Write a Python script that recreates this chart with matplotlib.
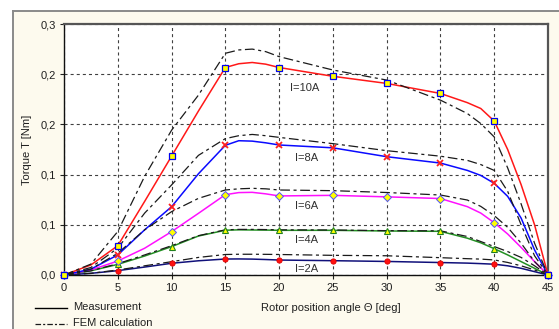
import matplotlib
matplotlib.use("Agg")
import matplotlib.pyplot as plt
from matplotlib.lines import Line2D
from matplotlib.patches import Rectangle
from matplotlib.ticker import FuncFormatter

plt.rcParams['font.family'] = ['Liberation Sans', 'DejaVu Sans']
plt.rcParams['lines.scale_dashes'] = False

# ---- data ----
angles = [0, 2.5, 5, 7.5, 10, 12.5, 15, 16.25, 17.5, 18.75, 20, 25, 30, 35, 37.5, 38.75, 40, 41.25, 42.5, 43.75, 45]

meas_10A = [0, 0.012, 0.035, 0.088, 0.142, 0.196, 0.248, 0.2525, 0.254, 0.252, 0.248, 0.2375, 0.229, 0.217, 0.206, 0.199, 0.184, 0.150, 0.108, 0.060, 0]
fem_10A  = [0, 0.013, 0.052, 0.118, 0.173, 0.215, 0.265, 0.269, 0.270, 0.267, 0.261, 0.245, 0.233, 0.209, 0.193, 0.181, 0.165, 0.128, 0.085, 0.038, 0]

meas_8A = [0, 0.007, 0.024, 0.054, 0.0816, 0.121, 0.155, 0.1605, 0.160, 0.158, 0.1554, 0.152, 0.1414, 0.1338, 0.125, 0.119, 0.1096, 0.094, 0.068, 0.030, 0]
fem_8A  = [0, 0.009, 0.032, 0.074, 0.1076, 0.143, 0.163, 0.1665, 0.168, 0.1665, 0.1645, 0.157, 0.1486, 0.142, 0.137, 0.132, 0.125, 0.100, 0.060, 0.023, 0]

meas_6A = [0, 0.006, 0.0167, 0.032, 0.0518, 0.0737, 0.096, 0.0985, 0.0988, 0.097, 0.0945, 0.0952, 0.0934, 0.0914, 0.0817, 0.074, 0.0625, 0.049, 0.033, 0.016, 0]
fem_6A  = [0, 0.007, 0.026, 0.054, 0.0757, 0.0916, 0.1016, 0.103, 0.1036, 0.103, 0.1016, 0.1008, 0.0986, 0.0956, 0.0896, 0.082, 0.0710, 0.057, 0.038, 0.016, 0]

meas_4A = [0, 0.005, 0.0127, 0.0227, 0.0339, 0.0466, 0.0535, 0.054, 0.0538, 0.0537, 0.0534, 0.0534, 0.0526, 0.0522, 0.044, 0.0385, 0.0315, 0.024, 0.016, 0.008, 0]
fem_4A  = [0, 0.005, 0.0135, 0.024, 0.035, 0.047, 0.054, 0.0545, 0.0545, 0.0543, 0.054, 0.0538, 0.053, 0.0528, 0.046, 0.040, 0.034, 0.028, 0.021, 0.011, 0]

meas_2A = [0, 0.002, 0.0052, 0.0095, 0.014, 0.017, 0.0191, 0.0192, 0.019, 0.0185, 0.0179, 0.0171, 0.0162, 0.0149, 0.0142, 0.0136, 0.0129, 0.011, 0.008, 0.004, 0]
fem_2A  = [0, 0.002, 0.006, 0.011, 0.0159, 0.021, 0.0245, 0.0248, 0.0248, 0.0247, 0.0245, 0.0235, 0.023, 0.0207, 0.0195, 0.019, 0.018, 0.015, 0.011, 0.006, 0]

labels = ["I=10A", "I=8A", "I=6A", "I=4A", "I=2A"]
label_pos = [(21.0, 0.2235), (21.5, 0.1398), (21.5, 0.0825), (21.5, 0.0418), (21.5, 0.0072)]

x_ticks = [0, 5, 10, 15, 20, 25, 30, 35, 40, 45]
y_ticks = [0, 0.06, 0.12, 0.18, 0.24, 0.30]

# ---- figure ----
W, H = 559, 329
fig = plt.figure(figsize=(W / 100, H / 100), dpi=100, facecolor='white')

def fx(px):
    return px / W

def fy(py):
    return 1 - py / H

# cream panel with grey frame
fig.patches.append(Rectangle((fx(13), 0), 1, fy(11), transform=fig.transFigure,
                             facecolor='#fdfaee', edgecolor='none', zorder=-5))
fig.lines.append(Line2D([fx(13), fx(13)], [0, fy(11)], transform=fig.transFigure,
                        color='#8a8a8a', lw=1.4, zorder=-4))
fig.lines.append(Line2D([fx(13), 1], [fy(11), fy(11)], transform=fig.transFigure,
                        color='#8a8a8a', lw=1.4, zorder=-4))

ax = fig.add_axes([fx(64), fy(275), fx(548) - fx(64), fy(24) - fy(275)])
ax.set_zorder(2)
ax.set_facecolor('white')
ax.set_xlim(0, 45)
ax.set_ylim(0, 0.30)
ax.set_xticks(x_ticks)
ax.set_yticks(y_ticks)
ax.yaxis.set_major_formatter(FuncFormatter(lambda v, p: f"{v:.1f}".replace('.', ',')))
ax.xaxis.set_major_formatter(FuncFormatter(lambda v, p: f"{v:g}"))
ax.tick_params(axis='both', direction='out', length=3, width=0.8, labelsize=8,
               colors='#202020', pad=3)
ax.tick_params(top=False, right=False)
for s in ['left', 'bottom']:
    ax.spines[s].set_color('#101010')
    ax.spines[s].set_linewidth(1.0)
for s in ['top', 'right']:
    ax.spines[s].set_color('#555555')
    ax.spines[s].set_linewidth(1.6)

ax.grid(True, color='#404040', linestyle=(0, (2.2, 2.2)), linewidth=0.8)
ax.set_axisbelow(True)

mk_idx = [i for i, a in enumerate(angles) if a % 5 == 0]

series = [
    (meas_2A, fem_2A, '#10107a', dict(marker='o', ms=3.8, mfc='#ff1010', mec='#e00000', mew=0.6)),
    (meas_4A, fem_4A, '#239023', dict(marker='^', ms=5, mfc='#ffff00', mec='#208020', mew=0.8)),
    (meas_6A, fem_6A, '#ff10ff', dict(marker='D', ms=3.6, mfc='#ffff00', mec='#5050ff', mew=0.7)),
    (meas_8A, fem_8A, '#0a0aff', dict(marker='x', ms=4, mfc='#ff0000', mec='#ff2020', mew=1.3)),
    (meas_10A, fem_10A, '#ff1818', dict(marker='s', ms=4.6, mfc='#ffff00', mec='#0000ee', mew=0.9)),
]

fem_style = (0, (7, 2.6, 2.2, 2.6))
for k, (m, f, c, mk) in enumerate(series):
    ax.plot(angles, m, color=c, lw=1.1, zorder=3 + k * 0.1)
    ax.plot(angles, f, color='#1a1a1a', lw=0.9, linestyle=fem_style, zorder=3.5 + k * 0.1)
for k, (m, f, c, mk) in enumerate(series):
    ax.plot([angles[i] for i in mk_idx], [m[i] for i in mk_idx], linestyle='none',
            zorder=5 + k * 0.1, clip_on=False, **mk)

for lab, (xx, yy) in zip(labels, label_pos):
    ax.text(xx, yy, lab, fontsize=8, color='#303030', ha='left', va='center', zorder=6)

# axis titles
fig.text(fx(27), fy(150), "Torque T [Nm]", rotation=90, ha='center', va='center',
         fontsize=8, color='#202020')
fig.text(fx(331), fy(308), "Rotor position angle \u0398 [deg]", ha='center', va='center',
         fontsize=8, color='#202020')

# legend
fig.lines.append(Line2D([fx(35), fx(67)], [fy(307.5), fy(307.5)], transform=fig.transFigure,
                        color='black', lw=1.0))
fig.text(fx(73), fy(307.5), "Measurement", ha='left', va='center', fontsize=8, color='#202020')
fig.lines.append(Line2D([fx(35), fx(67)], [fy(323.5), fy(323.5)], transform=fig.transFigure,
                        color='#1a1a1a', lw=0.9, linestyle=(0, (4, 1.5, 1.5, 1.5))))
fig.text(fx(73), fy(323.5), "FEM calculation", ha='left', va='center', fontsize=8, color='#202020')

fig.savefig("out.png", dpi=100, facecolor='white')
